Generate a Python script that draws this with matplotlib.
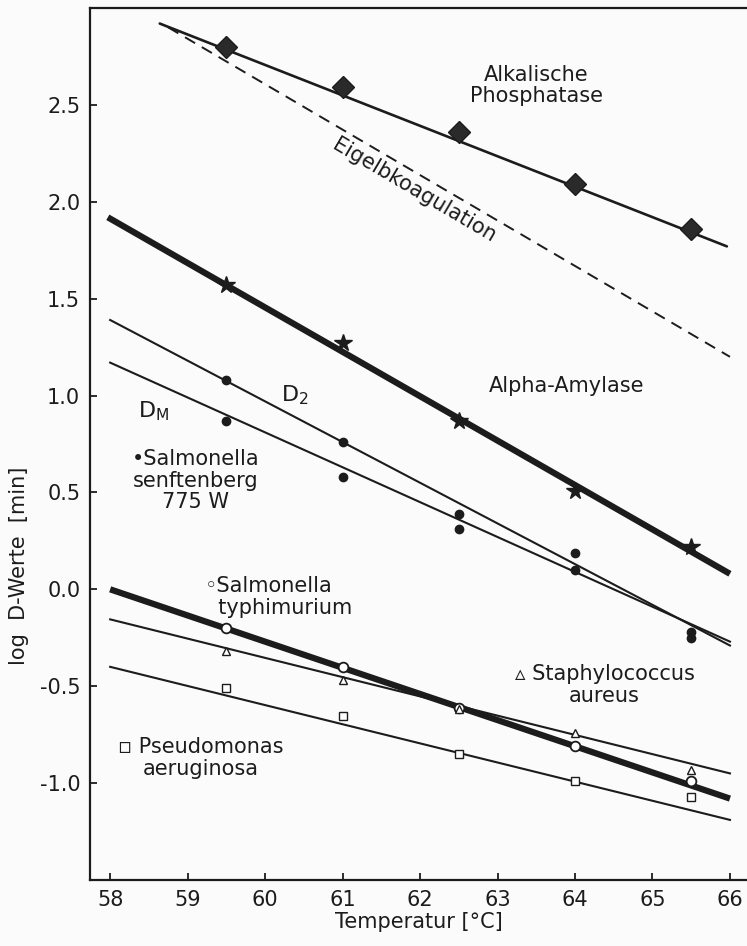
import numpy as np
import matplotlib.pyplot as plt

# measured temperatures
temp = [59.5, 61.0, 62.5, 64.0, 65.5]

# log D values
phosphatase = [2.80, 2.59, 2.36, 2.09, 1.86]
amylase = [1.57, 1.27, 0.87, 0.51, 0.22]
senft_d2 = [1.08, 0.76, 0.39, 0.19, -0.22]
senft_dm = [0.87, 0.58, 0.31, 0.10, -0.25]
typhi = [-0.20, -0.40, -0.61, -0.81, -0.99]
staph = [-0.32, -0.47, -0.62, -0.74, -0.93]
pseudo = [-0.51, -0.655, -0.85, -0.99, -1.07]

# drawn regression lines: (x start, x end), (y start, y end)
phos_fit = ([58.64, 65.96], [2.92, 1.77])
egg_fit = ([58.75, 66.0], [2.90, 1.20])
amyl_fit = ([57.97, 66.0], [1.92, 0.08])
d2_fit = ([58.0, 66.0], [1.39, -0.29])
dm_fit = ([58.0, 66.0], [1.17, -0.27])
typhi_fit = ([58.0, 66.0], [0.00, -1.08])
staph_fit = ([58.0, 66.0], [-0.155, -0.95])
pseudo_fit = ([58.0, 66.0], [-0.40, -1.19])

ink = '#1c1c1c'
plt.rcParams['font.family'] = ['DejaVu Sans']
plt.rcParams['mathtext.default'] = 'regular'

fig = plt.figure(figsize=(7.47, 9.46), dpi=100, facecolor='#fbfbfb')
ax = fig.add_axes([0.1205, 0.0698, 0.8795, 0.9217])
ax.set_facecolor('#fbfbfb')

# lines
ax.plot(*phos_fit, color=ink, lw=1.9, solid_capstyle='round')
ax.plot(*egg_fit, color=ink, lw=1.4, ls=(0, (6, 4)))
ax.plot(*amyl_fit, color=ink, lw=4.5, solid_capstyle='butt')
ax.plot(*d2_fit, color=ink, lw=1.5)
ax.plot(*dm_fit, color=ink, lw=1.5)
ax.plot(*typhi_fit, color=ink, lw=4.5, solid_capstyle='butt')
ax.plot(*staph_fit, color=ink, lw=1.5)
ax.plot(*pseudo_fit, color=ink, lw=1.5)

# points
ax.plot(temp, phosphatase, 'D', ms=11.5, color='#2a2a2a', mec=ink, zorder=5)
ax.plot(temp, amylase, '*', ms=13, color=ink, zorder=5)
ax.plot(temp, senft_d2, 'o', ms=6, color=ink, zorder=5)
ax.plot(temp, senft_dm, 'o', ms=6, color=ink, zorder=5)
ax.plot(temp, typhi, 'o', ms=7, mfc='white', mec=ink, mew=1.3, zorder=6)
ax.plot(temp, staph, '^', ms=6, mfc='white', mec=ink, mew=1.0, zorder=6)
ax.plot(temp, pseudo, 's', ms=6, mfc='white', mec=ink, mew=1.0, zorder=6)

# labels
fs = 15
ax.text(63.5, 2.6, 'Alkalische\nPhosphatase', fontsize=fs, color=ink,
        ha='center', va='center', linespacing=1.1)
ax.text(61.93, 2.06, 'Eigelbkoagulation', fontsize=fs, color=ink,
        ha='center', va='center', rotation=-30.5, rotation_mode='anchor')
ax.text(63.89, 1.05, 'Alpha-Amylase', fontsize=fs, color=ink, ha='center', va='center')
ax.text(60.38, 1.0, r'D$_2$', fontsize=fs + 1, color=ink, ha='center', va='center')
ax.text(58.56, 0.92, r'D$_M$', fontsize=fs + 1, color=ink, ha='center', va='center')
ax.text(59.1, 0.56, '\u2022Salmonella\nsenftenberg\n775 W', fontsize=fs, color=ink,
        ha='center', va='center', multialignment='center', linespacing=1.1)
ax.text(59.22, -0.04, '\u25e6Salmonella\n  typhimurium', fontsize=fs, color=ink,
        ha='left', va='center', linespacing=1.1)
ax.text(64.38, -0.495, '\u25b5 Staphylococcus\naureus', fontsize=fs, color=ink,
        ha='center', va='center', multialignment='center', linespacing=1.1)
ax.text(59.17, -0.87, '\u25ab Pseudomonas\naeruginosa', fontsize=fs, color=ink,
        ha='center', va='center', multialignment='center', linespacing=1.1)

ax.set_xlim(57.74, 66.22)
ax.set_ylim(-1.5, 3.0)
ax.set_xticks(range(58, 67))
ax.set_yticks([-1.0, -0.5, 0.0, 0.5, 1.0, 1.5, 2.0, 2.5])
ax.set_yticklabels(['-1.0', '-0.5', '0.0', '0.5', '1.0', '1.5', '2.0', '2.5'])
ax.tick_params(direction='in', length=5, width=1.3, labelsize=fs, colors=ink, pad=7)
for s in ['left', 'bottom', 'top']:
    ax.spines[s].set_linewidth(1.6)
    ax.spines[s].set_color(ink)
ax.spines['right'].set_visible(False)

ax.set_xlabel('Temperatur [°C]', fontsize=fs, color=ink, labelpad=2)
ax.set_ylabel('log  D-Werte  [min]', fontsize=fs, color=ink)
ax.yaxis.set_label_coords(-0.093, 0.36)

fig.savefig('out.png', dpi=100, facecolor=fig.get_facecolor())
